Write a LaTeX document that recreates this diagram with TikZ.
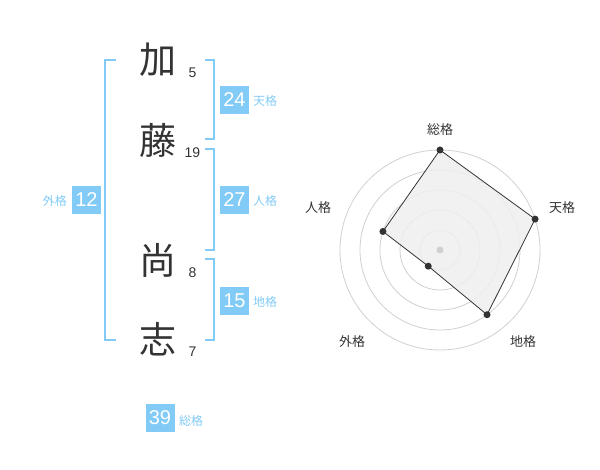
\documentclass[tikz,border=0pt]{standalone}
\usepackage{fontspec}
\usetikzlibrary{calc}
\setmainfont{Liberation Sans}
\newfontfamily\cjk{Noto Sans CJK JP}
\definecolor{blu}{HTML}{82CBF7}
\definecolor{dk}{HTML}{333333}
\definecolor{ring}{HTML}{D0D0D0}
\definecolor{polyfill}{HTML}{EFEFEF}
\begin{document}
\begin{tikzpicture}[x=1pt,y=-1pt,
  bigch/.style={font=\cjk\fontsize{37}{37}\selectfont, text=dk, inner sep=0pt},
  strk/.style={font=\fontsize{14}{14}\selectfont, text=dk, inner sep=0pt},
  valbox/.style={fill=blu, text=white, minimum width=29pt, minimum height=28pt, inner sep=0pt, font=\fontsize{20}{20}\selectfont},
  vallab/.style={font=\cjk\fontsize{12}{12}\selectfont, text=blu, inner sep=0pt},
  brk/.style={draw=blu, line width=2pt},
  axlab/.style={font=\cjk\fontsize{13}{13}\selectfont, text=dk, inner sep=0pt},
  dot/.style={circle, fill=dk, inner sep=0pt, minimum size=7pt},
]
\useasboundingbox (0,0) rectangle (600,470);
% characters
\node[bigch] (c1) at (158,60) {加};
\node[bigch] (c2) at (158,140) {藤};
\node[bigch] (c3) at (158,260) {尚};
\node[bigch] (c4) at (158,339) {志};
\node[strk] (s1) at (192.5,73) {5};
\node[strk] (s2) at (192.5,153) {19};
\node[strk] (s3) at (192.5,273) {8};
\node[strk] (s4) at (192.5,352) {7};
% brackets
\draw[brk] (116,60) -- (105,60) -- (105,340) -- (116,340);
\draw[brk] (205,60) -- (214,60) -- (214,139) -- (205,139);
\draw[brk] (205,149) -- (214,149) -- (214,250) -- (205,250);
\draw[brk] (205,259) -- (214,259) -- (214,340) -- (205,340);
% value boxes
\node[valbox] (ten) at (234.5,100) {24};
\node[vallab, anchor=west] (tenl) at (253,101) {天格};
\node[valbox] (jin) at (234.5,200) {27};
\node[vallab, anchor=west] (jinl) at (253,201) {人格};
\node[valbox] (chi) at (234.5,301) {15};
\node[vallab, anchor=west] (chil) at (253,302) {地格};
\node[valbox] (gai) at (86.5,200) {12};
\node[vallab, anchor=east] (gail) at (67,201) {外格};
\node[valbox] (sou) at (160,418) {39};
\node[vallab, anchor=west] (soul) at (179,421) {総格};
% radar
\coordinate (c) at (440,250);
\foreach \r in {20,40,60,80,100}
  \draw[ring, line width=0.8pt] (c) circle[radius=\r pt];
\coordinate (p1) at ($(c)+(90:100pt)$);
\coordinate (p2) at ($(c)+(18:100pt)$);
\coordinate (p3) at ($(c)+(-54:80pt)$);
\coordinate (p4) at ($(c)+(-126:20pt)$);
\coordinate (p5) at ($(c)+(162:60pt)$);
\filldraw[fill=polyfill, fill opacity=0.85, draw=dk, line width=0.8pt] (p1) -- (p2) -- (p3) -- (p4) -- (p5) -- cycle;
\node[circle, fill=ring, inner sep=0pt, minimum size=7pt] (cd) at (c) {};
\foreach \i in {1,...,5} \node[dot] (d\i) at (p\i) {};
\node[axlab] (a1) at (440,130) {総格};
\node[axlab] (a2) at (562,208) {天格};
\node[axlab] (a3) at (523,342) {地格};
\node[axlab] (a4) at (352,342) {外格};
\node[axlab] (a5) at (318,208) {人格};
\end{tikzpicture}
\end{document}
